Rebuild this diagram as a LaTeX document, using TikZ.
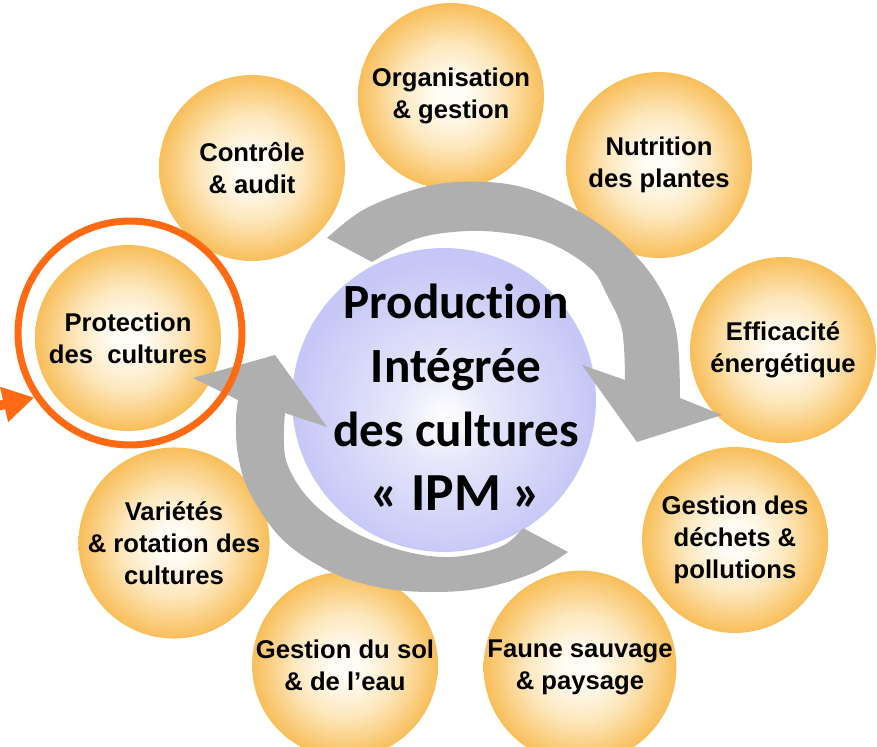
\documentclass[tikz,border=0pt]{standalone}
\usepackage{fontspec}
\setmainfont{Liberation Sans}
\newfontfamily\hubfamily[Ligatures=NoCommon]{Carlito}
\usepackage{tikz}
\usetikzlibrary{positioning, calc, arrows.meta}
\definecolor{OrbCore}{HTML}{FFFDF6}
\definecolor{OrbLight}{HTML}{FDE7BC}
\definecolor{OrbEdge}{HTML}{F8BE5A}
\definecolor{HubEdge}{HTML}{C6C6F7}
\definecolor{HubLight}{HTML}{E6E6FB}
\definecolor{CycleGrey}{HTML}{AFAFAF}
\definecolor{FocusOrange}{HTML}{FF6A12}

\pgfdeclareradialshading{orbglow}{\pgfpoint{0bp}{0bp}}{%
  color(0bp)=(OrbCore); color(4bp)=(OrbCore); color(14bp)=(OrbLight);
  color(25bp)=(OrbEdge); color(50bp)=(OrbEdge)}
\pgfdeclareradialshading{hubglow}{\pgfpoint{0bp}{-3bp}}{%
  color(0bp)=(white); color(8bp)=(HubLight); color(25bp)=(HubEdge);
  color(50bp)=(HubEdge)}

\newcommand{\orbfont}{\fontsize{14.6}{18.2}\selectfont\bfseries}
\newcommand{\hubfont}{\hubfamily\fontsize{28}{36.5}\selectfont\bfseries}

\tikzset{
  orb/.style={circle, minimum size=3.72cm, inner sep=0pt, shading=orbglow,
    align=center, font=\orbfont},
  hub/.style={circle, minimum size=6.08cm, inner sep=0pt, shading=hubglow},
  hubtext/.style={align=center, font=\hubfont},
  focusring/.style={circle, draw=FocusOrange, line width=0.14cm,
    minimum size=4.48cm, inner sep=0pt},
}

\begin{document}
\begin{tikzpicture}[x=0.02cm, y=-0.02cm]
  % Page frame (pixel grid of the reference)
  \useasboundingbox (0,0) rectangle (877,747);
  \clip (0,0) rectangle (877,747);

  % Satellite themes
  \foreach \name/\px/\py/\txt in {
    organisation/451/96/{Organisation\\\& gestion},
    nutrition/659/165/{Nutrition\\des plantes},
    efficacite/783/350/{Efficacit\'e\\\'energ\'etique},
    dechets/735/540/{Gestion des\\d\'echets \&\\pollutions},
    faune/580/667/{Faune sauvage\\\& paysage},
    sol/345/665/{Gestion du sol\\\& de l’eau},
    varietes/174/543/{Vari\'et\'es\\\& rotation des\\cultures},
    protection/128/338/{Protection\\des~ cultures},
    controle/252/168/{Contr\^ole\\\& audit}} {
    \node[orb] (\name) at (\px,\py) {\txt};
  }

  % Central theme
  \node[hub] (hub) at (444,400) {};
  \node[hubtext] (hublabel) at (456,397) {Production\\Int\'egr\'ee\\des cultures\\{\fontsize{30.5}{36.5}\selectfont « IPM »}};

  % Cycle arrows
  \fill[CycleGrey] plot[smooth, tension=0.6] coordinates {
    (327,238) (363,210) (413,190) (457,182) (513,185) (563,203) (615,236)
    (655,280) (676,330) (680,398)}
    -- (722,415) -- (637,442) -- (582,365)
    -- plot[smooth, tension=0.6] coordinates {
    (625,380) (622,330) (607,295) (590,268) (547,242) (497,232) (453,232)
    (413,240) (372,262)} -- cycle;

  \fill[CycleGrey] plot[smooth, tension=0.6] coordinates {
    (568,552) (533,573) (483,588) (433,592) (383,588) (333,573) (283,540)
    (250,493) (238,455) (236,420) (238,400)}
    -- (193,378) -- (275,355) -- (327,427)
    -- plot[smooth, tension=0.6] coordinates {
    (285,413) (286,460) (310,500) (350,530) (400,550) (450,557) (500,547)
    (523,528)} -- cycle;

  % Highlight of the topic
  \node[focusring] (focus) at (130,333) {};
  \coordinate (pointer) at (-20,410);
  \draw[FocusOrange, line width=0.19cm,
    -{Triangle[length=0.62cm, width=0.68cm]}] (pointer) -- (focus.214);
\end{tikzpicture}
\end{document}
